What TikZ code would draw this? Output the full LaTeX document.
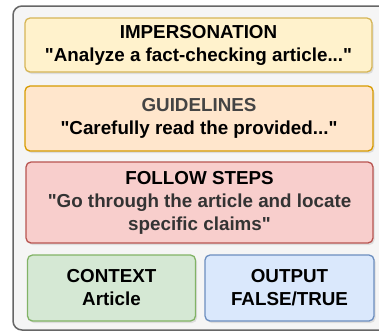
\documentclass[tikz,border=0pt]{standalone}
\usepackage{fontspec}
\setmainfont{Liberation Sans}[Ligatures=TeXOff]
\usetikzlibrary{shadows}

\definecolor{outerfill}{HTML}{F5F5F5}
\definecolor{outerline}{HTML}{666666}
\definecolor{yelfill}{HTML}{FFF2CC}
\definecolor{yelline}{HTML}{D6B656}
\definecolor{orafill}{HTML}{FFE6CC}
\definecolor{oraline}{HTML}{D79B00}
\definecolor{redfill}{HTML}{F8CECC}
\definecolor{redline}{HTML}{B85450}
\definecolor{grnfill}{HTML}{D5E8D4}
\definecolor{grnline}{HTML}{82B366}
\definecolor{blufill}{HTML}{DAE8FC}
\definecolor{bluline}{HTML}{6C8EBF}

\tikzset{
  promptbox/.style={rectangle, rounded corners=5pt, line width=1.3pt, align=center,
    inner sep=0pt, font=\bfseries\fontsize{18.8}{23}\selectfont,
    drop shadow={opacity=0.2, shadow xshift=1.5pt, shadow yshift=-2pt}},
}

\begin{document}
\begin{tikzpicture}[x=1pt,y=-1pt]
\clip (0,0) rectangle (379,333);

% outer frame
\draw[outerline, fill=outerfill, line width=1.5pt, rounded corners=9pt] (13,6) rectangle (395,330);

\node[promptbox, draw=yelline, fill=yelfill, minimum width=347pt, minimum height=54pt] (imp) at (198.5,45)
  {IMPERSONATION\\"Analyze a fact-checking article..."};

\node[promptbox, draw=oraline, fill=orafill, minimum width=348pt, minimum height=65pt] (guide) at (199,118.5)
  {\color[HTML]{444444}GUIDELINES\\"Carefully read the provided..."};

\node[promptbox, draw=redline, fill=redfill, minimum width=347pt, minimum height=81pt] (steps) at (199.5,202.5)
  {FOLLOW STEPS\\\color[HTML]{333333}"Go through the article and locate\\\color[HTML]{333333}specific claims"};

\node[promptbox, draw=grnline, fill=grnfill, minimum width=168pt, minimum height=66pt] (ctx) at (111.5,288)
  {CONTEXT\\Article};

\node[promptbox, draw=bluline, fill=blufill, minimum width=169pt, minimum height=66pt] (out) at (289.5,288)
  {OUTPUT\\FALSE/TRUE};

\end{tikzpicture}
\end{document}
